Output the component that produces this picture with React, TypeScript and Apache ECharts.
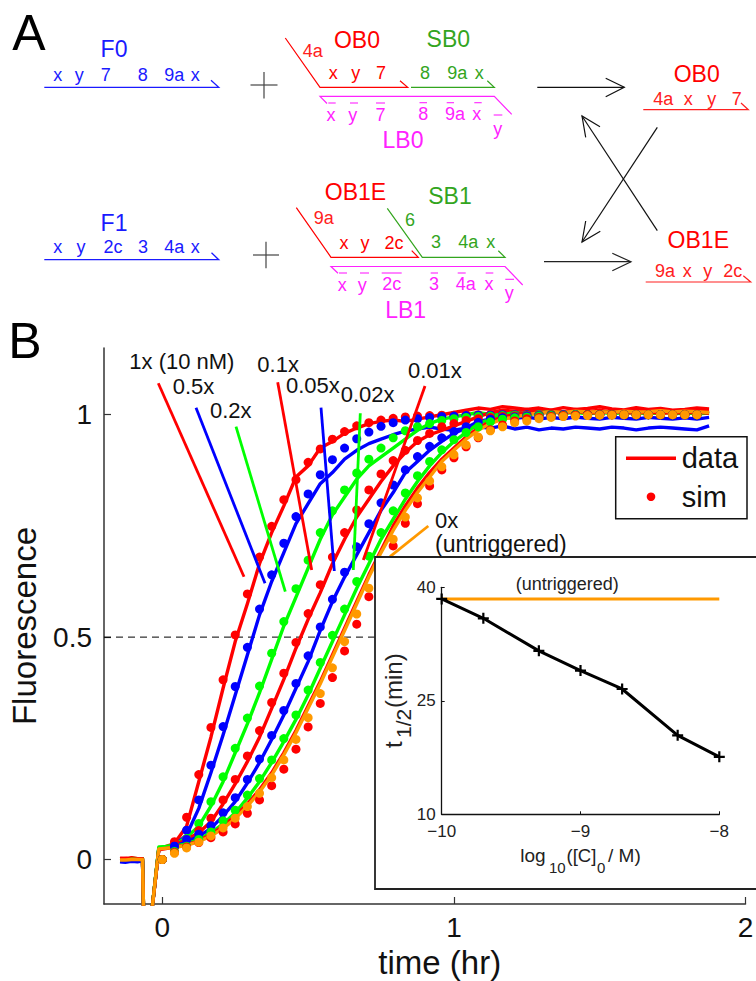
import React, { useEffect, useRef } from "react";
import * as echarts from "echarts";

const FONT = "'Liberation Sans', Arial, sans-serif";
const RED = "#ff0000", BLUE = "#0000ff", GREEN = "#00ff00", ORANGE = "#ff9900";
const DBLUE = "#1a1aff", DGREEN = "#33a51e", MAG = "#ff22ff", LRED = "#ff2020";

const preT = [-0.145, -0.125, -0.105, -0.085, -0.068, -0.06, -0.035, -0.012];
const preV = [
  [0.001, 0.002, 0.0, 0.002, 0.001, -0.25, -0.11, 0.024],
  [-0.005, -0.006, -0.004, -0.005, -0.003, -0.25, -0.11, 0.024],
  [0.002, 0.001, 0.003, 0.002, 0.002, -0.25, -0.11, 0.026],
  [0.003, 0.002, 0.004, 0.002, 0.002, -0.25, -0.11, 0.024],
  [-0.004, -0.005, -0.003, -0.004, -0.003, -0.25, -0.11, 0.024],
  [0.001, 0.002, 0.002, 0.002, 0.002, -0.25, -0.11, 0.028],
  [0.002, 0.003, 0.001, 0.002, 0.002, -0.25, -0.11, 0.022],
  [-0.001, -0.001, 0.0, 0.0, 0.0, -0.25, -0.11, 0.024],
];
const simStep = 0.04167;

const line1x = [.036,.075,.175,.275,.385,.49,.575,.665,.735,.795,.86,.885,.925,.94,.958,.97,.98,.985,.988,.985,.99,.995,1.0,1.005,1.01,1.015,1.012,1.018,1.015,1.012,1.015,1.01,1.016,1.012,1.014,1.018,1.013,1.011,1.016,1.012,1.014,1.01,1.012,1.015,1.013];
const line05x = [.032,.055,.115,.195,.28,.37,.46,.55,.625,.69,.755,.80,.845,.87,.90,.92,.935,.945,.955,.963,.968,.972,.968,.965,.97,.972,.97,.975,.968,.972,.966,.97,.968,.972,.97,.968,.972,.97,.966,.97,.972,.97,.968,.966,.975];
const line02x = [.033,.05,.075,.12,.175,.24,.305,.375,.45,.525,.59,.655,.72,.775,.815,.855,.885,.905,.925,.945,.965,.98,.99,.995,1.0,1.005,1.0,1.003,1.006,1.002,1.005,1.007,1.004,1.006,1.003,1.006,1.002,1.005,1.007,1.004,1.003,1.006,1.005,1.002,1.004];
const line01x = [.032,.045,.06,.085,.125,.17,.22,.275,.34,.405,.475,.54,.60,.665,.72,.77,.81,.85,.885,.915,.94,.955,.965,.975,.985,.995,1.005,1.01,1.008,1.012,1.005,1.01,1.006,1.012,1.007,1.01,1.005,1.008,1.011,1.006,1.009,1.006,1.01,1.007,1.009];
const line005x = [.03,.04,.052,.07,.098,.13,.172,.218,.27,.325,.385,.445,.515,.58,.635,.685,.735,.785,.825,.87,.895,.92,.94,.958,.97,.985,.99,.995,.992,.995,.99,.994,.991,.995,.992,.99,.994,.992,.99,.994,.992,.99,.993,.99,.994];
const line002x = [.03,.035,.045,.06,.08,.105,.138,.175,.218,.265,.315,.37,.43,.49,.55,.61,.665,.72,.765,.81,.85,.885,.915,.94,.96,.98,.99,1.0,1.005,1.0,1.004,1.007,1.003,1.006,1.002,1.005,1.007,1.003,1.005,1.002,1.006,1.004,1.002,1.005,1.003];
const line001x = [.028,.033,.042,.056,.075,.098,.125,.157,.195,.24,.29,.345,.40,.46,.52,.58,.64,.695,.75,.795,.835,.87,.9,.925,.95,.97,.985,.995,1.0,1.005,1.003,1.006,1.004,1.007,1.005,1.004,1.007,1.005,1.004,1.006,1.003,1.005,1.004,1.006,1.003];
const line0x = [.027,.032,.04,.053,.07,.092,.12,.152,.19,.235,.285,.34,.395,.455,.515,.575,.635,.69,.74,.785,.825,.86,.895,.92,.945,.965,.98,.99,.995,1.0,1.004,1.007,1.005,1.008,1.006,1.007,1.005,1.008,1.006,1.007,1.009,1.006,1.008,1.007,1.005];

const sim1x = [0,.04,.095,.191,.297,.404,.505,.597,.68,.749,.809,.854,.893,.923,.945,.962,.975,.982,.988,.992,.995,.997,.998,.999,.999,1,1,1,1,1,1,1,1,1,1,1,1,1,1,1,1,1,1,1,1];
const sim05x = [0,.03,.066,.134,.212,.299,.389,.477,.563,.64,.711,.771,.822,.865,.899,.925,.946,.961,.974,.982,.988,.991,.994,.996,.997,.998,.999,.999,1,1,1,1,1,1,1,1,1,1,1,1,1,1,1,1,1];
const sim02x = [0,.028,.047,.081,.13,.186,.25,.318,.39,.464,.535,.609,.673,.735,.784,.831,.869,.9,.925,.948,.964,.973,.98,.987,.991,.994,.996,.997,.998,.999,.999,1,1,1,1,1,1,1,1,1,1,1,1,1,1];
const sim01x = [0,.028,.045,.065,.093,.134,.18,.233,.29,.353,.419,.488,.553,.618,.68,.735,.786,.831,.867,.897,.92,.942,.958,.973,.98,.987,.991,.994,.996,.997,.998,.999,1,1,1,1,1,1,1,1,1,1,1,1,1];
const sim005x = [0,.03,.045,.057,.076,.105,.139,.18,.226,.279,.335,.396,.458,.523,.585,.646,.703,.755,.802,.842,.876,.906,.929,.948,.962,.973,.983,.99,.993,.995,.997,.998,.999,1,1,1,1,1,1,1,1,1,1,1,1];
const sim002x = [0,.018,.03,.045,.062,.087,.111,.145,.182,.224,.272,.325,.381,.443,.504,.563,.625,.682,.735,.784,.824,.863,.895,.921,.944,.96,.973,.984,.99,.993,.995,.997,.998,.999,1,1,1,1,1,1,1,1,1,1,1];
const sim001x = [0,.016,.028,.038,.049,.062,.08,.104,.134,.166,.203,.248,.298,.351,.409,.469,.529,.591,.649,.705,.756,.80,.84,.876,.903,.928,.948,.966,.977,.986,.991,.994,.996,.998,.999,1,1,1,1,1,1,1,1,1,1];
const sim0x = [0,.014,.026,.039,.053,.071,.093,.119,.149,.184,.224,.27,.319,.373,.431,.49,.552,.61,.667,.72,.77,.813,.851,.883,.91,.932,.95,.964,.973,.982,.986,.991,.994,.996,.997,.998,.999,.999,1,1,1,1,1,1,1];

const lineValues = [line1x, line05x, line02x, line01x, line005x, line002x, line001x, line0x];
const simValues = [sim1x, sim05x, sim02x, sim01x, sim005x, sim002x, sim001x, sim0x];
const curveColors = [RED, BLUE, GREEN, RED, BLUE, GREEN, RED, ORANGE];

const insetX = [-10, -9.7, -9.3, -9, -8.7, -8.3, -8];
const insetY = [38.46, 35.9, 31.6, 29.0, 26.56, 20.44, 17.6];
const untriggeredX = [-10, -8];
const untriggeredY = [38.46, 38.46];

// text, x, baseline, size, colour, align
type T = [string, number, number, number, string, string?];
const schemeTexts: T[] = [
  ["A", 29, 50, 50, "#000"], ["B", 25, 358, 50, "#000"],
  ["F0", 114, 57, 23, DBLUE], ["x", 57.7, 81, 18, DBLUE], ["y", 79.3, 81, 18, DBLUE], ["7", 105.7, 81, 18, DBLUE], ["8", 142.7, 81, 18, DBLUE], ["9a", 174.3, 81, 18, DBLUE], ["x", 195.3, 81, 18, DBLUE],
  ["F1", 114, 230.7, 23, DBLUE], ["x", 57.7, 253.3, 18, DBLUE], ["y", 81, 253.3, 18, DBLUE], ["2c", 113, 253.3, 18, DBLUE], ["3", 143, 253.3, 18, DBLUE], ["4a", 174.3, 253.3, 18, DBLUE], ["x", 195.3, 253.3, 18, DBLUE],
  ["OB0", 357, 47.7, 23, RED], ["4a", 312.7, 57, 18, LRED], ["x", 333.3, 79.3, 18, RED], ["y", 355.7, 79.3, 18, RED], ["7", 381, 79.3, 18, RED],
  ["SB0", 448.3, 47.3, 23, DGREEN], ["8", 425, 79.3, 18, DGREEN], ["9a", 457.3, 79.3, 18, DGREEN], ["x", 479.3, 79.3, 18, DGREEN],
  ["x", 331, 121.7, 18, MAG], ["y", 352.7, 121.7, 18, MAG], ["7", 380.5, 121.7, 18, MAG], ["8", 423.3, 120.7, 18, MAG], ["9a", 455, 120.7, 18, MAG], ["x", 476.7, 120.7, 18, MAG], ["y", 497.7, 135, 18, MAG],
  ["LB0", 403, 148.3, 23, MAG],
  ["OB1E", 355.5, 200, 23, RED], ["9a", 323.7, 224.3, 18, LRED], ["x", 344, 249.3, 18, RED], ["y", 365, 249.3, 18, RED], ["2c", 394, 249.3, 18, RED],
  ["SB1", 450, 204.3, 23, DGREEN], ["6", 410, 226, 18, DGREEN], ["3", 436, 248.3, 18, DGREEN], ["4a", 468.3, 248.3, 18, DGREEN], ["x", 490.7, 248.3, 18, DGREEN],
  ["x", 342.3, 291.7, 18, MAG], ["y", 362.3, 291.7, 18, MAG], ["2c", 391.7, 290.7, 18, MAG], ["3", 434, 290.7, 18, MAG], ["4a", 465.7, 290.7, 18, MAG], ["x", 489, 290.7, 18, MAG], ["y", 509.3, 299.3, 18, MAG],
  ["LB1", 405.7, 317.7, 23, MAG],
  ["OB0", 696.7, 82.3, 23, RED], ["4a", 663.3, 105, 18, LRED], ["x", 688.3, 105, 18, LRED], ["y", 711.7, 105, 18, LRED], ["7", 736.7, 105, 18, LRED],
  ["OB1E", 698.3, 248.3, 23, RED], ["9a", 665, 277.7, 18, LRED], ["x", 687.3, 277.7, 18, LRED], ["y", 707.7, 277.7, 18, LRED], ["2c", 732.7, 277.7, 18, LRED],
];

type P = [string, number, number[]];
const schemeLines: P[] = [
  [DBLUE, 1.3, [44.3, 87.3, 218.7, 87.3, 211, 80.3]],
  [DBLUE, 1.3, [44.3, 259.7, 218.7, 259.7, 211.5, 252.7]],
  ["#444", 1.2, [250.5, 85, 277.5, 85]], ["#444", 1.2, [264, 72, 264, 98.5]],
  ["#444", 1.2, [253, 255, 279, 255]], ["#444", 1.2, [266, 241.7, 266, 268.3]],
  [RED, 1.2, [285.3, 38, 320, 87.3, 407.7, 87.3, 400, 80.7]],
  [DGREEN, 1.2, [411, 87.3, 494.3, 87.3, 487.3, 80.7]],
  [MAG, 1.2, [327, 103.5, 320, 96.3, 494.3, 96.3, 511.7, 114.3]],
  [RED, 1.2, [296.3, 207.7, 331, 257.3, 418.3, 257.3, 411.7, 250.7]],
  [DGREEN, 1.2, [387.3, 208.3, 422.3, 257.3, 505, 257.3, 498.3, 250.7]],
  [MAG, 1.2, [338, 273.3, 331, 266.5, 505, 266.5, 522.7, 285]],
  [LRED, 1.2, [643.3, 109.7, 748.3, 109.7, 741, 103]],
  [LRED, 1.2, [645.7, 282, 750.7, 282, 743.3, 275.7]],
  ["#111", 1.2, [537.3, 87.3, 624.3, 87.3]], ["#111", 1.2, [605.7, 78.3, 624.3, 87.3, 605.7, 96.7]],
  ["#222", 1.2, [544, 261.7, 631, 261.7]], ["#222", 1.2, [612.3, 253.3, 631, 261.7, 612.3, 270.7]],
  ["#111", 1.2, [657.3, 230.7, 582, 116]], ["#111", 1.2, [600, 126.7, 582, 116, 585.7, 137.3]],
  ["#111", 1.2, [657.3, 127.3, 582, 242]], ["#111", 1.2, [585.7, 221, 582, 242, 600.3, 231.3]],
];
// x1, x2, y of the overbars
const bars: number[][] = [
  [328.3, 335.7, 103], [350, 358, 103], [376, 385, 103], [419.5, 427, 102.7], [446.7, 454, 102.7], [474.3, 481.7, 102.7], [493.7, 502.3, 115],
  [339, 347, 273], [360, 369, 273], [381.7, 401.7, 273], [430.7, 438, 273], [457.7, 465.7, 273], [485.7, 493.3, 273], [505.3, 514, 279.3],
];

const labelTexts: T[] = [
  ["1x (10 nM)", 129.3, 369.3, 22, "#111", "left"], ["0.5x", 172.7, 394.3, 22, "#111", "left"], ["0.2x", 210, 417.7, 22, "#111", "left"],
  ["0.1x", 257.3, 371.7, 22, "#111", "left"], ["0.05x", 286, 393.3, 22, "#111", "left"], ["0.02x", 340.7, 401.7, 22, "#111", "left"],
  ["0.01x", 408, 378, 22, "#111", "left"], ["0x", 435, 528.3, 22, "#111", "left"], ["(untriggered)", 435, 551.7, 23, "#111", "left"],
];
const labelLines: P[] = [
  [RED, 2.8, [158.3, 383.3, 244, 576.7]], [BLUE, 2.8, [196, 407.7, 265, 583.3]], [GREEN, 2.8, [236, 426.7, 285.3, 591.7]],
  [RED, 2.8, [277.7, 382.3, 311.7, 570]], [BLUE, 2.8, [321, 407.7, 334.3, 571]], [GREEN, 2.8, [360.3, 413.3, 353.3, 570]],
  [RED, 2.8, [425, 386, 363.3, 560]], [ORANGE, 2.8, [428.3, 526, 390, 556.7]],
];

function txt(t: T, z: number) {
  const [s, x, base, size, fill, align] = t;
  return {
    type: "text", x, y: base - 0.346 * size, z, silent: true,
    style: { text: s, fontFamily: FONT, fontSize: size, fill, textAlign: align || "center", textVerticalAlign: "middle" },
  };
}
function poly(p: P, z: number) {
  const pts: number[][] = [];
  for (let i = 0; i < p[2].length; i += 2) pts.push([p[2][i], p[2][i + 1]]);
  return { type: "polyline", z, silent: true, shape: { points: pts }, style: { stroke: p[0], lineWidth: p[1], fill: "none" } };
}

export default function App() {
  const ref = useRef<HTMLDivElement>(null);
  useEffect(() => {
    document.body.style.margin = "0";
    const chart = echarts.init(ref.current!, undefined, { renderer: "svg" });
    const lineT = preT.concat(line1x.map((_, i) => (i + 1) * simStep));
    const series: any[] = [
      {
        type: "line", xAxisIndex: 0, yAxisIndex: 0, z: 1, symbol: "none", silent: true,
        data: [[-0.2, 0.5], [2, 0.5]], lineStyle: { color: "#000", width: 1, type: [7, 5] },
      },
    ];
    lineValues.forEach((vals, k) => {
      const ys = preV[k].concat(vals);
      series.push({
        type: "line", name: "data", xAxisIndex: 0, yAxisIndex: 0, z: 2, symbol: "none", silent: true,
        data: ys.map((v, i) => [lineT[i], v]), lineStyle: { color: curveColors[k], width: 3.4, join: "round" },
      });
    });
    simValues.forEach((vals, k) => {
      series.push({
        type: "scatter", name: "sim", xAxisIndex: 0, yAxisIndex: 0, z: 3, symbolSize: 9, silent: true,
        data: vals.map((v, i) => [i * simStep, v]), itemStyle: { color: curveColors[k], opacity: 1 },
      });
    });
    series.push({
      type: "line", xAxisIndex: 1, yAxisIndex: 1, z: 10, symbol: "none", silent: true,
      data: untriggeredX.map((x, i) => [x, untriggeredY[i]]), lineStyle: { color: ORANGE, width: 3 },
    });
    series.push({
      type: "line", xAxisIndex: 1, yAxisIndex: 1, z: 11, silent: true,
      symbol: "path://M4 0h2v4h4v2h-4v4h-2v-4h-4v-2h4z", symbolSize: 11,
      data: insetX.map((x, i) => [x, insetY[i]]), lineStyle: { color: "#000", width: 3 }, itemStyle: { color: "#000" },
    });

    const insetTexts: T[] = [
      ["(untriggered)", 567.3, 590, 18, "#222"],
      ["log", 533, 861.7, 19, "#222"], ["10", 549, 872.3, 15, "#222", "left"], ["([C]", 566.5, 861.7, 18.5, "#222", "left"],
      ["0", 597, 872.3, 15, "#222", "left"], ["/ M)", 608, 861.7, 19, "#222", "left"],
    ];
    const rotated = (s: string, base: number, yPos: number, size: number) => ({
      type: "text", x: base - 0.346 * size, y: yPos, rotation: Math.PI / 2, z: 20, silent: true,
      style: { text: s, fontFamily: FONT, fontSize: size, fill: "#222", textAlign: "left", textVerticalAlign: "middle" },
    });

    const graphic: any[] = [
      ...schemeLines.map((p) => poly(p, 1)),
      ...bars.map((b) => poly([MAG, 1.1, [b[0], b[2], b[1], b[2]]], 1)),
      ...schemeTexts.map((t) => txt(t, 1)),
      ...labelLines.map((p) => poly(p, 4)),
      ...labelTexts.map((t) => txt(t, 4)),
      { type: "rect", z: 4, silent: true, shape: { x: 615.7, y: 436.7, width: 131.3, height: 82 }, style: { fill: "#fff", stroke: "#111", lineWidth: 1.5 } },
      { type: "line", z: 4.5, silent: true, shape: { x1: 626, y1: 458.3, x2: 676, y2: 458.3 }, style: { stroke: RED, lineWidth: 3.4 } },
      { type: "circle", z: 4.5, silent: true, shape: { cx: 651, cy: 496.7, r: 4.3 }, style: { fill: RED } },
      txt(["data", 681.7, 468, 29, "#111", "left"], 4.5),
      txt(["sim", 681.7, 507.3, 29, "#111", "left"], 4.5),
      { type: "rect", z: 5, silent: true, shape: { x: 375, y: 557, width: 400, height: 332 }, style: { fill: "#fff", stroke: "#222", lineWidth: 1.8 } },
      ...insetTexts.map((t) => txt(t, 20)),
      rotated("t", 402, 748, 24),
      rotated("1/2", 410.7, 738, 21),
      rotated("(min)", 402, 708, 24),
    ];

    chart.setOption({
      animation: false,
      backgroundColor: "#fff",
      textStyle: { fontFamily: FONT },
      grid: [
        { left: 104, top: 348, width: 641.5, height: 556, outerBoundsMode: "none" },
        { left: 441.7, top: 587.3, width: 277.6, height: 227, outerBoundsMode: "none" },
      ],
      xAxis: [
        {
          type: "value", gridIndex: 0, min: -0.2, max: 2, interval: 0.2, splitLine: { show: false },
          name: "time (hr)", nameLocation: "middle", nameGap: 37,
          nameTextStyle: { fontSize: 33, color: "#111", fontFamily: FONT, padding: [0, 0, 0, 30] },
          axisLine: { show: true, onZero: false, lineStyle: { color: "#333", width: 1.5 } },
          axisTick: { show: true, inside: true, length: 7, customValues: [0, 1, 2], lineStyle: { color: "#333", width: 1.2 } },
          axisLabel: { customValues: [0, 1, 2], fontSize: 28, color: "#111", margin: 9, fontFamily: FONT },
        },
        {
          type: "value", gridIndex: 1, min: -10, max: -8, interval: 1, z: 10, splitLine: { show: false },
          axisLine: { show: true, onZero: false, lineStyle: { color: "#111", width: 1.3 } },
          axisTick: { show: true, inside: true, length: 3, lineStyle: { color: "#111" } },
          axisLabel: { fontSize: 17, color: "#222", margin: 9, fontFamily: FONT, formatter: (v: number) => String(v).replace("-", "\u2212") },
        },
      ],
      yAxis: [
        {
          type: "value", gridIndex: 0, min: -0.1, max: 1.15, interval: 0.05, splitLine: { show: false },
          name: "Fluorescence", nameLocation: "middle", nameGap: 63,
          nameTextStyle: { fontSize: 33, color: "#111", fontFamily: FONT },
          axisLine: { show: true, onZero: false, lineStyle: { color: "#333", width: 1.5 } },
          axisTick: { show: true, inside: true, length: 7, customValues: [0, 0.5, 1], lineStyle: { color: "#333", width: 1.2 } },
          axisLabel: { customValues: [0, 0.5, 1], fontSize: 28, color: "#111", margin: 12, fontFamily: FONT },
        },
        {
          type: "value", gridIndex: 1, min: 10, max: 40, interval: 15, z: 10, splitLine: { show: false },
          axisLine: { show: true, onZero: false, lineStyle: { color: "#111", width: 1.3 } },
          axisTick: { show: true, inside: true, length: 3, lineStyle: { color: "#111" } },
          axisLabel: { fontSize: 17, color: "#222", margin: 6, fontFamily: FONT },
        },
      ],
      series,
      graphic: { elements: graphic.filter(Boolean) },
    });
    return () => chart.dispose();
  }, []);
  return <div ref={ref} style={{ position: "absolute", left: 0, top: 0, width: 756, height: 981 }} />;
}
